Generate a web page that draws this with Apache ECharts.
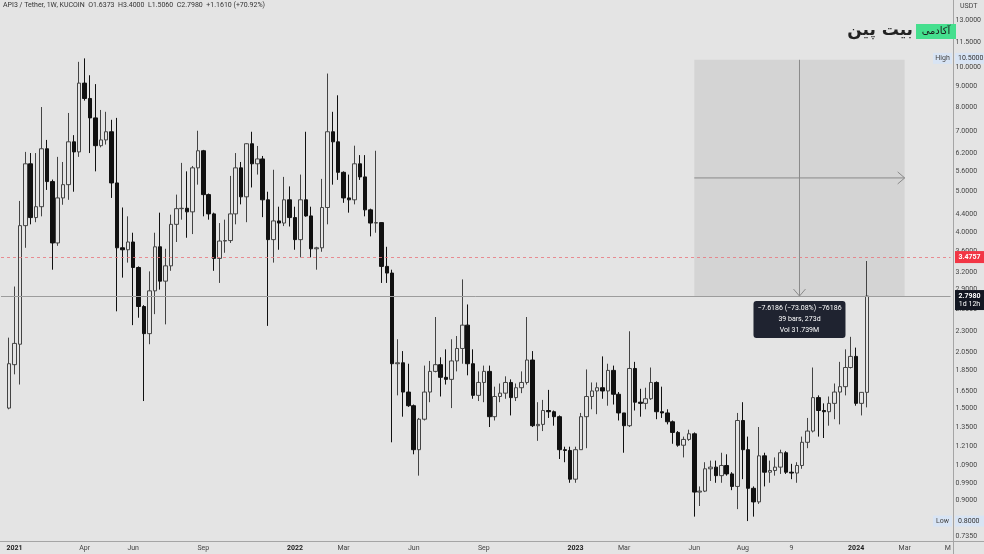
<!DOCTYPE html>
<html><head><meta charset="utf-8">
<script src="https://cdn.jsdelivr.net/npm/echarts@6/dist/echarts.min.js"></script>
<style>html,body{margin:0;padding:0;background:#e4e4e4}#c{width:984px;height:554px}</style>
</head><body><div id="c"></div>
<script>
// ---- data (weekly candles, API3/USDT KuCoin, from week of 2020-12-28) ----
const firstCandle = '2020-12-28';
const opens = [1.50,1.91,2.14,4.14,5.84,4.33,4.60,6.35,5.29,3.76,
4.83,5.20,6.60,6.24,9.15,8.40,7.54,6.46,6.67,6.98,
5.25,3.66,3.62,3.78,3.28,2.64,2.27,2.88,3.68,3.04,
3.31,4.17,4.55,4.56,4.47,5.71,6.28,4.92,4.42,3.45,
3.80,3.81,4.42,5.71,4.86,6.53,5.84,6.00,4.78,3.83,
4.25,4.20,4.78,4.33,3.83,4.78,4.37,3.64,3.66,4.58,
6.98,6.60,5.57,4.83,4.78,5.84,5.43,4.52,4.20,4.21,
3.30,3.18,1.92,1.93,1.64,1.52,1.19,1.41,1.64,1.84,
1.91,1.78,1.76,1.95,2.09,2.38,1.92,1.61,1.73,1.84,
1.43,1.60,1.63,1.73,1.59,1.68,1.73,1.96,1.36,1.37,
1.48,1.47,1.43,1.19,1.185,1.01,1.19,1.43,1.60,1.65,
1.68,1.65,1.85,1.62,1.46,1.36,1.87,1.55,1.54,1.58,
1.73,1.47,1.46,1.39,1.31,1.22,1.26,1.30,0.94,0.945,
1.07,1.08,1.03,1.09,1.04,0.97,1.40,1.19,0.96,0.89,
1.15,1.05,1.06,1.08,1.17,1.05,1.045,1.09,1.24,1.32,
1.59,1.48,1.47,1.54,1.64,1.69,1.88,2.00,1.54,1.6373];
const closes = [1.92,2.15,4.14,5.84,4.33,4.60,6.35,5.29,3.76,4.83,
5.20,6.60,6.24,9.15,8.40,7.54,6.46,6.67,6.98,5.25,
3.66,3.62,3.78,3.28,2.64,2.27,2.88,3.68,3.04,3.31,
4.17,4.55,4.56,4.47,5.71,6.28,4.92,4.42,3.45,3.80,
3.81,4.42,5.71,4.86,6.53,5.84,6.00,4.78,3.83,4.25,
4.20,4.78,4.33,3.83,4.78,4.37,3.64,3.66,4.58,6.98,
6.60,5.57,4.83,4.78,5.84,5.43,4.52,4.20,4.21,3.30,
3.18,1.92,1.93,1.64,1.52,1.19,1.41,1.64,1.84,1.91,
1.78,1.76,1.95,2.09,2.38,1.92,1.61,1.73,1.84,1.43,
1.60,1.63,1.73,1.59,1.68,1.73,1.96,1.36,1.37,1.48,
1.47,1.43,1.19,1.185,1.01,1.19,1.43,1.60,1.65,1.68,
1.65,1.85,1.62,1.46,1.36,1.87,1.55,1.54,1.58,1.73,
1.47,1.46,1.39,1.31,1.22,1.26,1.30,0.94,0.945,1.07,
1.08,1.03,1.09,1.04,0.97,1.40,1.19,0.96,0.89,1.15,
1.05,1.06,1.08,1.17,1.05,1.045,1.09,1.24,1.32,1.59,
1.48,1.47,1.54,1.64,1.69,1.88,2.00,1.54,1.6373,2.798];
const lows = [1.49,1.81,1.71,3.66,4.17,4.22,4.36,5.05,3.24,3.70,
4.65,4.78,5.00,6.07,8.30,6.20,5.60,6.40,6.50,4.83,
2.57,3.10,3.37,2.38,2.48,1.56,2.14,2.53,2.90,2.39,
3.22,3.78,4.28,3.87,3.95,5.20,4.36,4.28,3.22,3.01,
3.56,3.76,4.17,4.66,4.22,5.12,5.50,4.34,2.37,3.37,
3.62,4.13,4.12,3.62,3.47,4.35,3.47,3.24,3.58,4.17,
5.20,5.34,4.70,4.45,4.66,5.34,4.36,3.90,3.98,3.01,
3.01,1.24,1.61,1.43,1.51,1.16,1.03,1.40,1.55,1.83,
1.60,1.71,1.50,1.84,1.92,1.80,1.58,1.56,1.55,1.35,
1.40,1.55,1.58,1.44,1.56,1.63,1.71,1.35,1.25,1.32,
1.42,1.36,1.13,1.11,0.99,0.99,1.19,1.20,1.49,1.45,
1.58,1.52,1.53,1.40,1.17,1.35,1.48,1.43,1.49,1.57,
1.41,1.42,1.37,1.23,1.21,1.14,1.25,0.82,0.87,0.94,
1.00,0.99,0.99,1.03,0.95,0.855,1.01,0.80,0.82,0.88,
0.97,0.99,1.03,1.04,1.04,1.01,0.99,1.07,1.20,1.31,
1.28,1.27,1.36,1.41,1.37,1.61,1.87,1.52,1.44,1.506];
const highs = [2.22,2.95,4.75,6.24,6.20,6.20,8.01,6.67,5.35,6.07,
5.90,7.75,6.85,10.30,10.50,9.56,9.10,7.88,7.80,7.46,
7.54,4.58,4.36,3.98,3.30,2.66,3.21,3.98,4.45,3.64,
4.40,4.92,5.87,5.60,5.77,7.02,6.31,4.95,4.45,4.20,
4.28,5.46,6.20,5.90,6.55,6.98,6.45,6.10,5.00,5.65,
4.60,5.43,5.15,4.60,5.50,6.98,4.60,3.68,5.37,9.65,
7.80,8.55,5.60,5.50,6.46,6.13,6.13,4.55,6.28,4.22,
3.68,3.24,2.20,2.06,1.92,1.53,1.42,1.90,1.95,2.49,
1.99,2.08,2.20,2.24,3.07,2.67,2.08,1.84,1.90,1.90,
1.69,1.72,1.79,1.76,1.72,1.84,2.49,2.06,1.55,1.57,
1.66,1.48,1.44,1.21,1.21,1.21,1.46,1.86,1.73,1.73,
2.00,1.92,1.90,1.64,1.46,2.30,1.94,1.67,1.68,1.88,
1.74,1.69,1.49,1.40,1.32,1.28,1.33,1.31,0.97,1.11,
1.12,1.12,1.17,1.16,1.05,1.46,1.55,1.28,0.97,1.35,
1.17,1.12,1.14,1.19,1.18,1.10,1.11,1.28,1.42,1.88,
1.61,1.54,1.60,1.72,1.94,2.08,2.23,2.10,1.64,3.40];

// axis ticks / labels
const yTicks = [13, 11.5, 10, 9, 8, 7, 6.2, 5.6, 5, 4.4, 4, 3.6, 3.2, 2.9, 2.6, 2.3, 2.05, 1.85, 1.65, 1.5, 1.35, 1.21, 1.09, 0.99, 0.9, 0.735];
const xTickDates = ['2021-01-04','2021-04-05','2021-06-07','2021-09-06','2022-01-03','2022-03-07','2022-06-06','2022-09-05','2023-01-02','2023-03-06','2023-06-05','2023-08-07','2023-10-09','2024-01-01','2024-03-04','2024-04-29'];
const xTickTexts = ['2021','Apr','Jun','Sep','2022','Mar','Jun','Sep','2023','Mar','Jun','Aug','9','2024','Mar','M'];

// annotations
const lastPrice = 2.798;
const redLine = 3.4757;
const measureFrom = '2023-06-05', measureTo = '2024-03-04';
const measureTop = 10.4166, measureBottom = 2.798;
const measureText = ['\u22127.6186 (\u221273.08%) \u221276186', '39 bars, 273d', 'Vol 31.739M'];
const headerText = 'API3 / Tether, 1W, KUCOIN  O1.6373  H3.4000  L1.5060  C2.7980  +1.1610 (+70.92%)';

// ---- build categories (one week earlier padding + future weeks) ----
const weeks = [];
const t0 = Date.UTC(2020, 11, 21);
for (let i = 0; i < 176; i++) weeks.push(new Date(t0 + i * 7 * 86400000).toISOString().slice(0, 10));
const startIdx = weeks.indexOf(firstCandle);
const candleData = opens.map((o, k) => [weeks[startIdx + k], o, closes[k], lows[k], highs[k]]);
const xLabelMap = {};
xTickDates.forEach((d, i) => xLabelMap[d] = xTickTexts[i]);

const FONT = 'Roboto, "Liberation Sans", sans-serif';
const BG = '#e4e4e4';
const GRID = {left: 1, right: 31, top: 0, bottom: 13};

const chart = echarts.init(document.getElementById('c'));
chart.setOption({
  animation: false,
  backgroundColor: BG,
  grid: GRID,
  xAxis: {
    type: 'category', data: weeks, boundaryGap: true,
    axisLine: {show: false}, axisTick: {show: false}, splitLine: {show: false},
    axisLabel: {
      interval: (i, v) => v in xLabelMap,
      formatter: v => { const t = xLabelMap[v] || ''; return /^\d{4}$/.test(t) ? '{y|' + t + '}' : t; },
      fontSize: 7, color: '#444', fontFamily: FONT, margin: 4, hideOverlap: false,
      rich: {y: {fontSize: 7, fontWeight: 'bold', color: '#222', fontFamily: FONT}}
    }
  },
  yAxis: {
    type: 'log', logBase: 10, min: 0.716, max: 14.53, position: 'right',
    axisLine: {show: false}, axisTick: {show: false}, splitLine: {show: false},
    axisLabel: {customValues: yTicks, formatter: v => Number(v).toFixed(4),
      fontSize: 7, color: '#444', fontFamily: FONT, margin: 5, align: 'left'}
  },
  series: [{
    type: 'candlestick',
    data: candleData,
    encode: {x: 0, y: [1, 2, 3, 4]},
    barWidth: 4,
    itemStyle: {color: 'rgba(0,0,0,0)', color0: '#111', borderColor: '#444', borderColor0: '#111', borderWidth: 1},
    markArea: {silent: true, itemStyle: {color: 'rgba(0,0,0,0.065)'},
      data: [[{xAxis: measureFrom, yAxis: measureTop}, {xAxis: measureTo, yAxis: measureBottom}]]},
    markLine: {silent: true, symbol: ['none', 'none'], label: {show: false},
      data: [
        {yAxis: redLine, lineStyle: {color: '#e8747c', type: [3, 3], width: 1, opacity: 0.8}},
        {yAxis: lastPrice, lineStyle: {color: '#9c9c9c', type: 'solid', width: 1}}
      ]}
  }]
});

// ---- overlay annotations positioned through the chart's own scales ----
const px = (d, v) => chart.convertToPixel({gridIndex: 0}, [d, v]);
const py = v => chart.convertToPixel({yAxisIndex: 0}, v);
const [xL, yT] = px(measureFrom, measureTop);
const [xR, yB] = px(measureTo, measureBottom);
const xM = (xL + xR) / 2;
const yM = py(Math.sqrt(measureTop * measureBottom));
const axisX = 984 - GRID.right;
const yRed = py(redLine), yLast = py(lastPrice);
const hiV = Math.max(...highs), loV = Math.min(...lows);
const yHi = py(hiV), yLo = py(loV);
const arrowStyle = {stroke: '#8a8a8a', lineWidth: 1, fill: null};
const txt = (x, y, s, o) => Object.assign({type: 'text', x: x, y: y, z: 100, style: Object.assign({text: s, fill: '#333', font: '7px ' + FONT, textVerticalAlign: 'middle'}, o || {})});

const g = [
  {type: 'line', z: 90, shape: {x1: axisX + 0.5, y1: 0, x2: axisX + 0.5, y2: 554}, style: {stroke: '#a5a5a5', lineWidth: 1}},
  {type: 'line', z: 90, shape: {x1: 0, y1: 541.5, x2: 984, y2: 541.5}, style: {stroke: '#a5a5a5', lineWidth: 1}},
  // measurement arrows
  {type: 'line', z: 50, shape: {x1: xM, y1: yT, x2: xM, y2: yB}, style: arrowStyle},
  {type: 'polyline', z: 50, shape: {points: [[xM - 6, yB - 7], [xM, yB], [xM + 6, yB - 7]]}, style: arrowStyle},
  {type: 'line', z: 50, shape: {x1: xL, y1: yM, x2: xR, y2: yM}, style: arrowStyle},
  {type: 'polyline', z: 50, shape: {points: [[xR - 7, yM - 6], [xR, yM], [xR - 7, yM + 6]]}, style: arrowStyle},
  // measurement tooltip
  {type: 'rect', z: 95, shape: {x: xM - 46, y: yB + 5, width: 92, height: 37, r: 3}, style: {fill: '#1f2330'}},
  txt(xM, yB + 12.5, measureText[0], {fill: '#fff', textAlign: 'center'}),
  txt(xM, yB + 23.5, measureText[1], {fill: '#fff', textAlign: 'center'}),
  txt(xM, yB + 34.5, measureText[2], {fill: '#fff', textAlign: 'center'}),
  // price labels on the axis
  {type: 'rect', z: 95, shape: {x: axisX + 2, y: yRed - 6, width: 29, height: 12}, style: {fill: '#f23645'}},
  txt(axisX + 16.5, yRed, redLine.toFixed(4), {fill: '#fff', textAlign: 'center', font: 'bold 7px ' + FONT}),
  {type: 'rect', z: 95, shape: {x: axisX + 2, y: yLast - 6, width: 29, height: 20}, style: {fill: '#131722'}},
  txt(axisX + 16.5, yLast, lastPrice.toFixed(4), {fill: '#fff', textAlign: 'center', font: 'bold 7px ' + FONT}),
  txt(axisX + 16.5, yLast + 8, '1d 12h', {fill: '#fff', textAlign: 'center'}),
  // high / low
  {type: 'rect', z: 95, shape: {x: axisX - 20, y: yHi - 5.5, width: 19, height: 11}, style: {fill: '#d8e4f4'}},
  txt(axisX - 10.5, yHi, 'High', {textAlign: 'center', fill: '#444'}),
  {type: 'rect', z: 95, shape: {x: axisX + 2, y: yHi - 5.5, width: 29, height: 11}, style: {fill: '#d8e4f4'}},
  txt(axisX + 5, yHi, hiV.toFixed(4), {fill: '#333'}),
  {type: 'rect', z: 95, shape: {x: axisX - 20, y: yLo - 5.5, width: 19, height: 11}, style: {fill: '#d8e4f4'}},
  txt(axisX - 10.5, yLo, 'Low', {textAlign: 'center', fill: '#444'}),
  {type: 'rect', z: 95, shape: {x: axisX + 2, y: yLo - 5.5, width: 29, height: 11}, style: {fill: '#d8e4f4'}},
  txt(axisX + 5, yLo, loV.toFixed(4), {fill: '#333'}),
  // header, unit, logo
  txt(3, 5.5, headerText, {fill: '#333'}),
  txt(axisX + 7, 6, 'USDT', {fill: '#444'}),
  {type: 'rect', z: 95, shape: {x: 916, y: 24, width: 40, height: 15}, style: {fill: '#45df8e'}},
  txt(936, 31.5, 'آکادمی', {textAlign: 'center', fill: '#1a1a1a', font: '10px "DejaVu Sans", sans-serif'}),
  txt(913, 30.5, 'بیت پین', {textAlign: 'right', fill: '#222', font: 'bold 17px "DejaVu Sans", sans-serif'})
];
chart.setOption({graphic: g});
</script></body></html>
